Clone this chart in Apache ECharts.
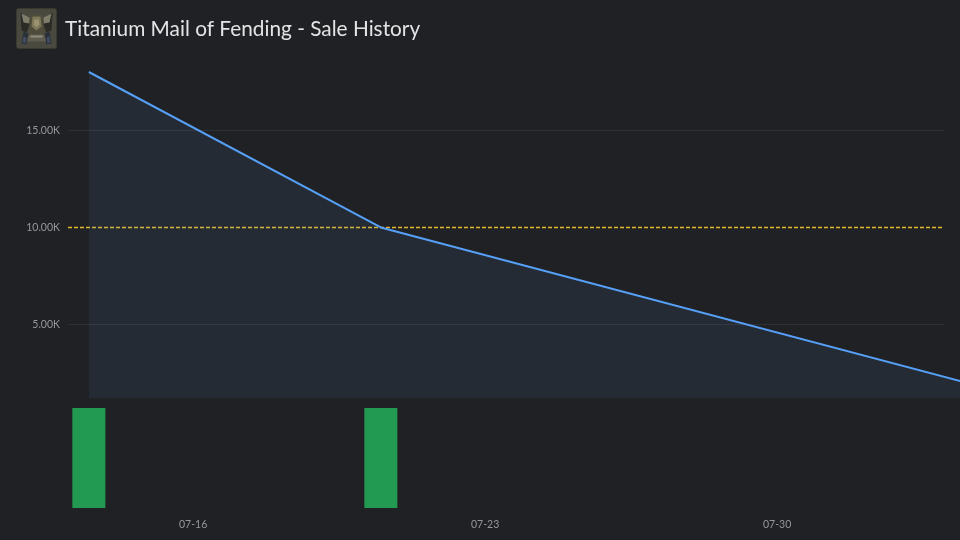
<!DOCTYPE html>
<html><head><meta charset="utf-8">
<style>html,body{margin:0;padding:0;background:#202124}#c{width:960px;height:540px}</style>
<script src="https://cdn.jsdelivr.net/npm/echarts@6/dist/echarts.min.js"></script>
</head><body><div id="c"></div>
<script>
const titleText = 'Titanium Mail of Fending - Sale History';
const saleDates = ['2023-07-13 12:00', '2023-07-20 12:00', '2023-08-03 12:00'];
const salePrices = [18000, 10000, 2030];
const volumeDates = ['2023-07-13 12:00', '2023-07-20 12:00'];
const volumes = [1, 1];
const xTickDates = ['2023-07-16 00:00', '2023-07-23 00:00', '2023-07-30 00:00'];
const yTicks = [5000, 10000, 15000];
const referencePrice = 10000;
const xMin = '2023-07-13 00:00', xRuleEnd = '2023-08-03 00:00', xMax = '2023-08-03 09:13';
const yMin = 1220, yMax = 18000;

const ts = s => new Date(s.replace(' ', 'T') + ':00').getTime();
const pad = n => String(n).padStart(2, '0');
const poly = (points, fill) => ({ type: 'polygon', shape: { points }, style: { fill } });
const rule = (y, lineStyle) => [{ coord: [ts(xMin), y], lineStyle }, { coord: [ts(xRuleEnd), y], lineStyle }];
const gridStyle = { color: '#2f3033', width: 1, type: 'solid' };
const refStyle = { color: '#e0b92e', width: 1.3, type: [4, 2] };

const chart = echarts.init(document.getElementById('c'), null, { renderer: 'canvas' });
chart.setOption({
  animation: false,
  backgroundColor: '#202124',
  textStyle: { fontFamily: 'Lato' },
  title: {
    text: titleText, left: 60, top: 14,
    textStyle: { color: '#e3e4e6', fontSize: 20.8, fontWeight: 'normal', fontFamily: 'Lato' }
  },
  graphic: [{
    type: 'group', left: 16, top: 8,
    children: [
      { type: 'rect', shape: { x: 0, y: 0, width: 40, height: 40, r: 2 }, style: { fill: '#4a4940', stroke: '#393930', lineWidth: 1 } },
      poly([[4,4],[12,9],[14,14],[10,24],[5,22]], '#2b2b26'),
      poly([[36,4],[28,9],[26,14],[30,24],[35,22]], '#2b2b26'),
      poly([[5,5],[13,9],[13,15],[7,14]], '#7f7c6a'),
      poly([[35,5],[27,9],[27,15],[33,14]], '#7f7c6a'),
      poly([[14,6],[26,6],[28,26],[12,26]], '#4f4c3b'),
      poly([[16,8],[24,8],[25,18],[20,22],[15,18]], '#7d7657'),
      poly([[18,11],[22,11],[23,16],[20,19],[17,16]], '#9a9270'),
      poly([[12,26],[28,26],[30,33],[10,33]], '#5f5d50'),
      poly([[14,27],[26,27],[26,29],[14,29]], '#8f8c7a'),
      poly([[7,23],[12,25],[10,36],[5,35]], '#2a3039'),
      poly([[33,23],[28,25],[30,36],[35,35]], '#2a3039'),
      poly([[7,28],[10,29],[9,35],[6,34]], '#3f4c60'),
      poly([[33,28],[30,29],[31,35],[34,34]], '#3f4c60')
    ]
  }],
  grid: [
    { left: 68, right: 0, top: 72, height: 326 },
    { left: 68, right: 0, top: 408, height: 100 }
  ],
  xAxis: [
    { type: 'value', gridIndex: 0, min: ts(xMin), max: ts(xMax),
      axisLine: { show: false }, axisTick: { show: false }, axisLabel: { show: false }, splitLine: { show: false } },
    { type: 'value', gridIndex: 1, min: ts(xMin), max: ts(xMax),
      axisLine: { show: false }, axisTick: { show: false }, splitLine: { show: false },
      axisLabel: {
        show: true, color: '#94979d', fontSize: 10.5, margin: 11, fontFamily: 'Lato',
        customValues: xTickDates.map(ts),
        formatter: v => { const d = new Date(v); return pad(d.getMonth() + 1) + '-' + pad(d.getDate()); }
      } }
  ],
  yAxis: [
    { type: 'value', gridIndex: 0, min: yMin, max: yMax,
      axisLine: { show: false }, axisTick: { show: false }, splitLine: { show: false },
      axisLabel: { color: '#94979d', fontSize: 10.5, margin: 8, fontFamily: 'Lato',
        customValues: yTicks, formatter: v => (v / 1000).toFixed(2) + 'K' } },
    { type: 'value', gridIndex: 1, min: 0, max: 1, show: false }
  ],
  series: [
    { type: 'line', xAxisIndex: 0, yAxisIndex: 0, showSymbol: false, silent: true,
      data: saleDates.map((d, i) => [ts(d), salePrices[i]]),
      lineStyle: { color: '#56a0f8', width: 2 },
      areaStyle: { color: 'rgba(86,160,248,0.115)' },
      markLine: { silent: true, symbol: 'none', label: { show: false }, z: 1,
        data: [
          ...yTicks.filter(y => y !== referencePrice).map(y => rule(y, gridStyle)),
          rule(referencePrice, refStyle)
        ] } },
    { type: 'bar', xAxisIndex: 1, yAxisIndex: 1, barWidth: 33, silent: true,
      data: volumeDates.map((d, i) => [ts(d), volumes[i]]),
      itemStyle: { color: '#239a52' } }
  ]
});
</script></body></html>
